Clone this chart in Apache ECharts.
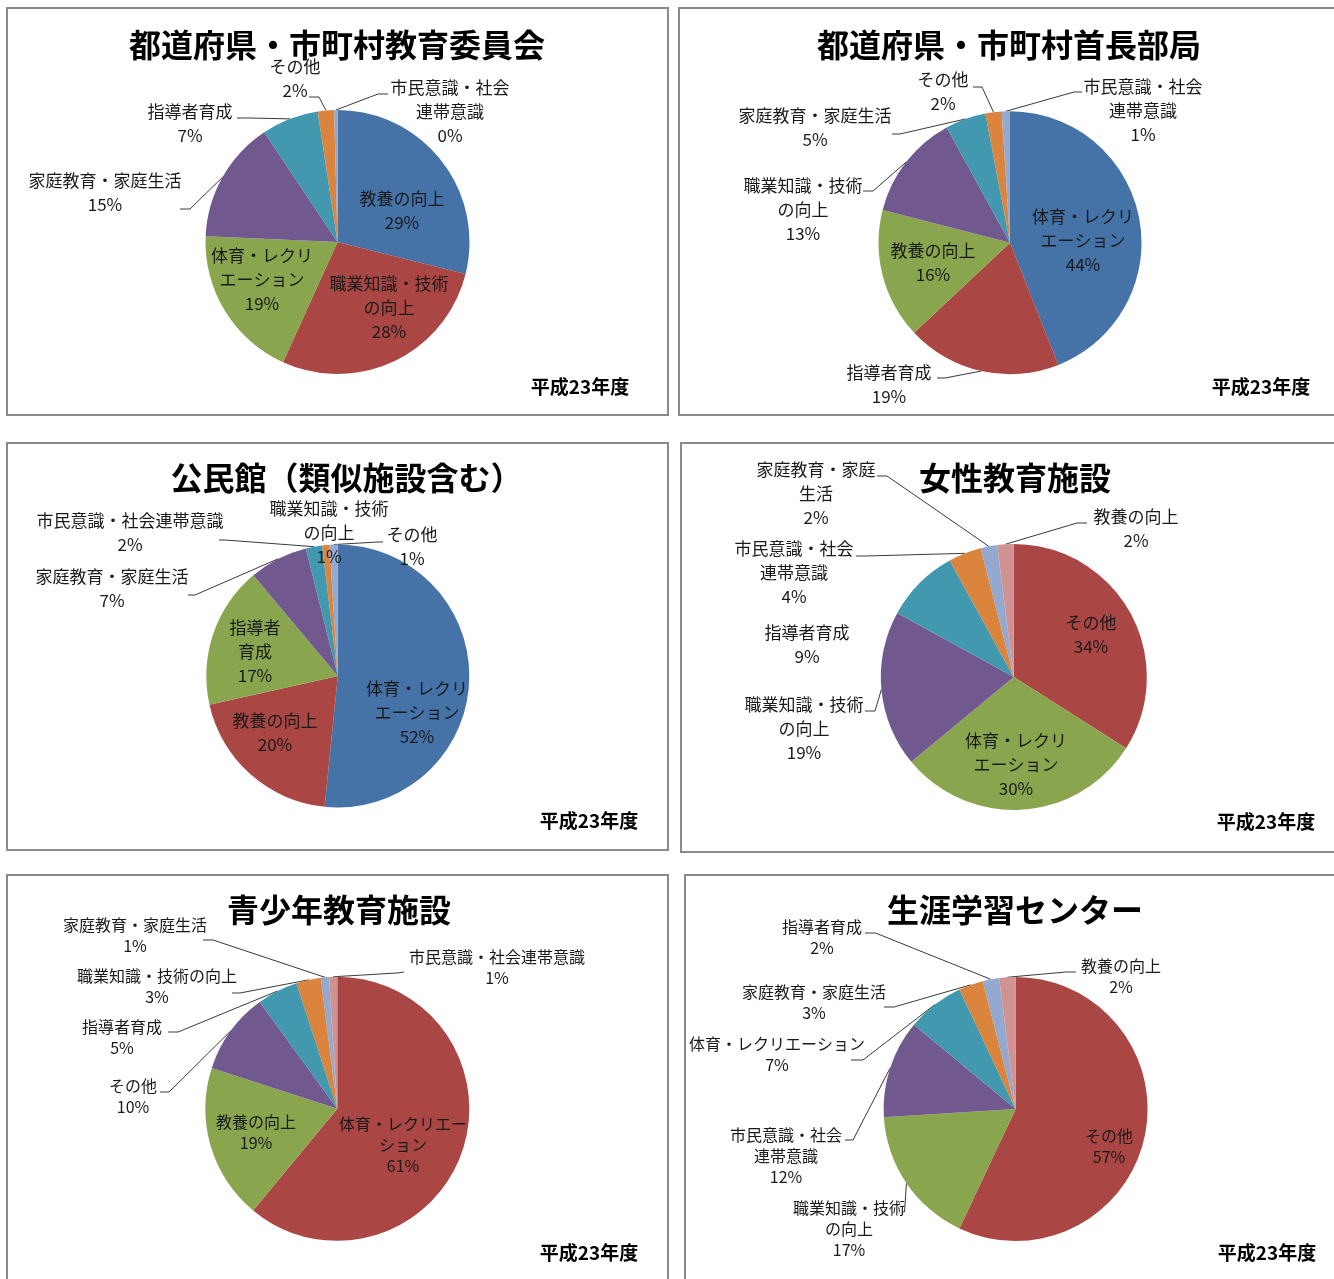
<!DOCTYPE html>
<html>
<head>
<meta charset="utf-8">
<script src="https://cdn.jsdelivr.net/npm/echarts/dist/echarts.min.js"></script>
<style>
html,body{margin:0;padding:0;background:#ffffff;}
#chart{width:1334px;height:1279px;}
</style>
</head>
<body>
<div id="chart"></div>
<script>
// ---------------- data ----------------
const titles = ['都道府県・市町村教育委員会','都道府県・市町村首長部局','公民館（類似施設含む）','女性教育施設','青少年教育施設','生涯学習センター'];
const yearLabel = '平成23年度';

const p1Categories = ['教養の向上','職業知識・技術の向上','体育・レクリエーション','家庭教育・家庭生活','指導者育成','その他','市民意識・社会連帯意識'];
const p1Values = [29, 28, 19, 15, 7, 2, 0.4];

const p2Categories = ['体育・レクリエーション','指導者育成','教養の向上','職業知識・技術の向上','家庭教育・家庭生活','その他','市民意識・社会連帯意識'];
const p2Values = [44, 19, 16, 13, 5, 2, 1];

const p3Categories = ['体育・レクリエーション','教養の向上','指導者育成','家庭教育・家庭生活','市民意識・社会連帯意識','職業知識・技術の向上','その他'];
const p3Values = [51.6, 19.9, 17.4, 7.2, 2.0, 0.9, 1.0];

const p4Categories = ['その他','体育・レクリエーション','職業知識・技術の向上','指導者育成','市民意識・社会連帯意識','家庭教育・家庭生活','教養の向上'];
const p4Values = [34, 30, 19, 9, 4, 2, 2];

const p5Categories = ['体育・レクリエーション','教養の向上','その他','指導者育成','職業知識・技術の向上','家庭教育・家庭生活','市民意識・社会連帯意識'];
const p5Values = [61, 19, 10, 5, 3, 1, 1];

const p6Categories = ['その他','職業知識・技術の向上','市民意識・社会連帯意識','体育・レクリエーション','家庭教育・家庭生活','指導者育成','教養の向上'];
const p6Values = [57, 17, 12, 7, 3, 2, 2];

// ---------------- styles / layout ----------------
const PALETTE = ['#4572A7','#AA4643','#89A54E','#71588F','#4198AF','#DB843D','#93A9CF','#D19392'];
const FONT = '"Noto Sans CJK JP","Noto Sans CJK SC",sans-serif';

const PANELS = [
  { cats:p1Categories, vals:p1Values, colorOffset:0, frame:[7,8,661,407], titlePos:[337,45], yearPos:[580,387],
    center:[337.5,242], r:132, font:17, lh:24,
    wrap:['教養の向上','職業知識・技術\nの向上','体育・レクリ\nエーション','家庭教育・家庭生活','指導者育成','その他','市民意識・社会\n連帯意識'],
    labels:[[402,211],[389,308],[262,280],[105,193,190,209,180,209],[190,124,250,118,237,118],[295,79,319,97,309,97],[450,112,378,94,388,94]] },
  { cats:p2Categories, vals:p2Values, colorOffset:0, frame:[679,8,700,407], titlePos:[1009,45], yearPos:[1261,387],
    center:[1010,242.7], r:131.5, font:17, lh:24,
    wrap:['体育・レクリ\nエーション','指導者育成','教養の向上','職業知識・技術\nの向上','家庭教育・家庭生活','その他','市民意識・社会\n連帯意識'],
    labels:[[1083,241],[889,385,945,378,937,378],[933,263],[803,210,873,191,863,191],[815,128,900,134,892,134],[943,92,982,87,973,87],[1143,111,1074,92,1082,92]] },
  { cats:p3Categories, vals:p3Values, colorOffset:0, frame:[7,443,661,407], titlePos:[346.5,478], yearPos:[589,821],
    center:[337.8,676], r:131.5, font:17, lh:24,
    wrap:['体育・レクリ\nエーション','教養の向上','指導者\n育成','家庭教育・家庭生活','市民意識・社会連帯意識','職業知識・技術\nの向上','その他'],
    labels:[[417,713],[275,733],[255,652],[112,589,195,595,188,595],[130,533,225,540,219,540],[329,533],[412,547,378,542,383,542]] },
  { cats:p4Categories, vals:p4Values, colorOffset:1, frame:[681,443,700,409], titlePos:[1015,478], yearPos:[1266,822],
    center:[1013.8,677], r:133, font:17, lh:24,
    wrap:['その他','体育・レクリ\nエーション','職業知識・技術\nの向上','指導者育成','市民意識・社会\n連帯意識','家庭教育・家庭\n生活','教養の向上'],
    labels:[[1091,635],[1016,765],[804,729,875,711,865,711],[807,645],[794,573,865,556,856,556],[816,494,887,476,877,476],[1136,529,1077,523,1087,523]] },
  { cats:p5Categories, vals:p5Values, colorOffset:1, frame:[7,875,661,420], titlePos:[339,910], yearPos:[589,1253],
    center:[337.3,1108.7], r:132, font:16, lh:21,
    wrap:['体育・レクリエー\nション','教養の向上','その他','指導者育成','職業知識・技術の向上','家庭教育・家庭生活','市民意識・社会連帯意識'],
    labels:[[403,1145],[256,1132.5],[133,1096.5,169,1092,160,1092],[122,1037.5,178,1032,168,1032],[157,986.5,240,993,232,993],[135,935.5,213,940,203,940],[497,967.5,397,973,404,972]] },
  { cats:p6Categories, vals:p6Values, colorOffset:1, frame:[685,875,700,420], titlePos:[1015,910], yearPos:[1267,1253],
    center:[1015.6,1109], r:132, font:16, lh:21,
    wrap:['その他','職業知識・技術\nの向上','市民意識・社会\n連帯意識','体育・レクリエーション','家庭教育・家庭生活','指導者育成','教養の向上'],
    labels:[[1109,1146.5],[849,1229,904.5,1212,902,1212],[786,1156,853,1140,845,1140],[777,1054.5,863,1060,851,1060],[814,1002.5,894,1007,884,1007],[822,937.5,875.5,933,865,933],[1121,976.5,1066,972,1076,972]] }
];

function edgePoint(P, idx) {
  const total = P.vals.reduce((a,b)=>a+b,0);
  let cum = 0;
  for (let i=0;i<idx;i++) cum += P.vals[i];
  const frac = (cum + P.vals[idx]/2) / total;
  const th = frac * Math.PI * 2;
  return [P.center[0] + P.r*Math.sin(th), P.center[1] - P.r*Math.cos(th)];
}

const series = PANELS.map(function(P){
  return {
    type:'pie',
    center:P.center,
    radius:[0, P.r],
    startAngle:90,
    clockwise:true,
    avoidLabelOverlap:false,
    animation:false,
    silent:true,
    itemStyle:{borderWidth:0},
    label:{
      show:true, position:'outside',
      fontSize:P.font, lineHeight:P.lh, fontFamily:FONT, color:'#1a1a1a',
      formatter:function(p){ return P.wrap[p.dataIndex] + '\n' + Math.round(p.value) + '%'; }
    },
    labelLine:{show:true, smooth:false, lineStyle:{color:'#3a3a3a', width:1}},
    emphasis:{disabled:true},
    data:P.cats.map(function(c,i){
      return { name:c, value:P.vals[i], itemStyle:{color:PALETTE[i+P.colorOffset]}, labelLine:{show:P.labels[i].length>2} };
    }),
    labelLayout:function(params){
      const L = P.labels[params.dataIndex];
      const out = {x:L[0], y:L[1], align:'center', verticalAlign:'middle'};
      if (L.length>2) {
        out.labelLinePoints = [edgePoint(P, params.dataIndex), [L[2],L[3]], [L[4],L[5]]];
      }
      return out;
    }
  };
});

const graphics = [];
PANELS.forEach(function(P, k){
  graphics.push({ type:'rect', z:0, shape:{x:P.frame[0], y:P.frame[1], width:P.frame[2], height:P.frame[3]},
    style:{fill:'rgba(0,0,0,0)', stroke:'#8a8a8a', lineWidth:2}, silent:true });
  graphics.push({ type:'text', z:10, x:P.titlePos[0], y:P.titlePos[1], silent:true,
    style:{text:titles[k], font:'bold 32px ' + FONT, fill:'#000', align:'center', verticalAlign:'middle', textAlign:'center', textVerticalAlign:'middle'} });
  graphics.push({ type:'text', z:10, x:P.yearPos[0], y:P.yearPos[1], silent:true,
    style:{text:yearLabel, font:'bold 19px ' + FONT, fill:'#000', align:'center', verticalAlign:'middle', textAlign:'center', textVerticalAlign:'middle'} });
});

const chart = echarts.init(document.getElementById('chart'), null, {renderer:'canvas'});
chart.setOption({
  backgroundColor:'#ffffff',
  animation:false,
  graphic:{elements:graphics},
  series:series
});
</script>
</body>
</html>
